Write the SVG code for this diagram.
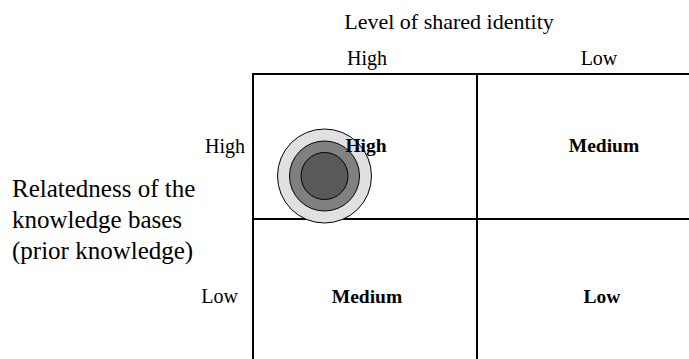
<svg xmlns="http://www.w3.org/2000/svg" width="689" height="359" viewBox="0 0 689 359">
<style>
text{font-family:"Liberation Serif","Times New Roman",serif;fill:#000}
.t{font-size:22px}
.l{font-size:25px}
.s{font-size:20px}
.b{font-size:19.5px;font-weight:bold}
.ln{stroke:#000;stroke-width:2;fill:none}
.c{stroke:#000;stroke-width:1}
</style>
<rect width="689" height="359" fill="#fff"/>
<g id="title"><text class="t" x="449" y="29" text-anchor="middle">Level of shared identity</text></g>
<g id="col-high"><text class="s" x="367" y="65" text-anchor="middle">High</text></g>
<g id="col-low"><text class="s" x="599" y="65" text-anchor="middle">Low</text></g>
<g id="row-title"><text class="l" x="12" y="197">Relatedness of the</text><text class="l" x="12" y="228">knowledge bases</text><text class="l" x="12" y="259">(prior knowledge)</text></g>
<g id="row-high"><text class="s" x="245" y="153" text-anchor="end">High</text></g>
<g id="row-low"><text class="s" x="238" y="303" text-anchor="end">Low</text></g>
<g id="connectors">
<line class="ln" x1="253" y1="74" x2="689" y2="74"/>
<line class="ln" x1="253" y1="219" x2="689" y2="219"/>
<line class="ln" x1="253" y1="73" x2="253" y2="359"/>
<line class="ln" x1="477" y1="73" x2="477" y2="359"/>
</g>
<g id="circles">
<circle class="c" cx="324.5" cy="176" r="47" fill="#e0e0e0"/>
<circle class="c" cx="324.5" cy="176" r="35" fill="#808080"/>
<circle class="c" cx="324.5" cy="176" r="23.5" fill="#595959"/>
</g>
<g id="cell-hh"><text class="b" x="366" y="152" text-anchor="middle">High</text></g>
<g id="cell-hl"><text class="b" x="604" y="152" text-anchor="middle">Medium</text></g>
<g id="cell-lh"><text class="b" x="367" y="303" text-anchor="middle">Medium</text></g>
<g id="cell-ll"><text class="b" x="602" y="303" text-anchor="middle">Low</text></g>
</svg>
